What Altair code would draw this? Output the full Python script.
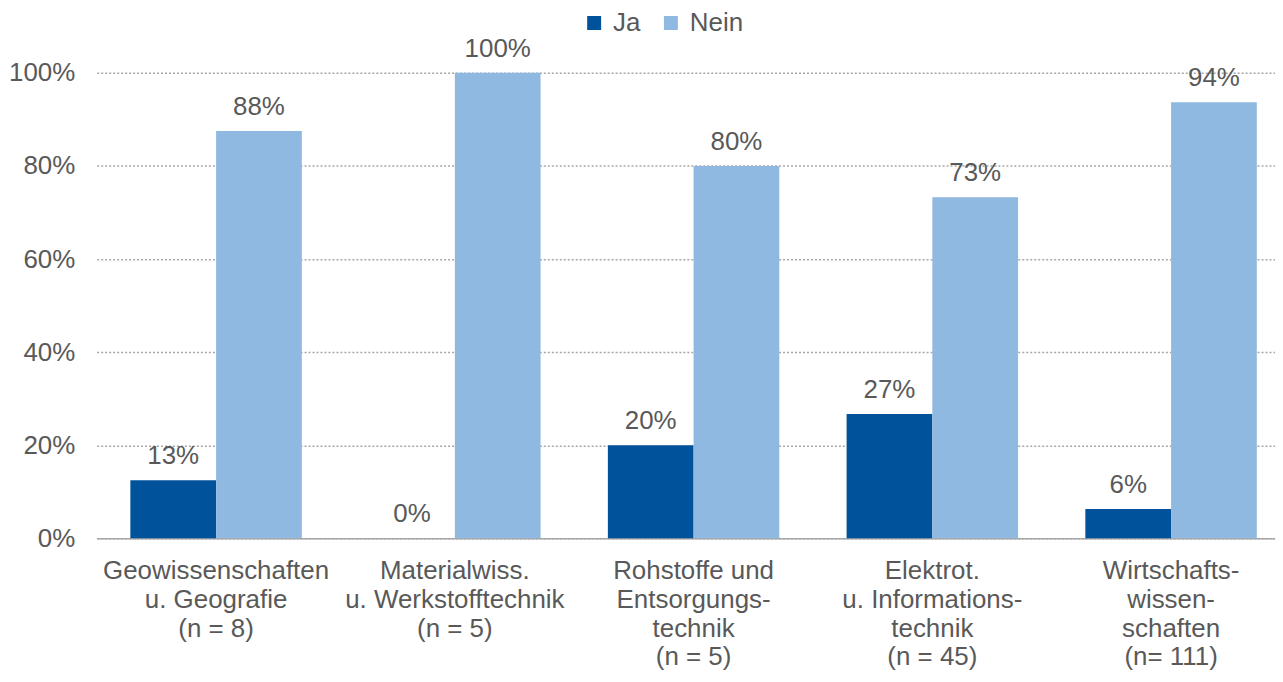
import altair as alt
import pandas as pd

categories = [
    "Geowissenschaften|u. Geografie|(n = 8)",
    "Materialwiss.|u. Werkstofftechnik|(n = 5)",
    "Rohstoffe und|Entsorgungs-|technik|(n = 5)",
    "Elektrot.|u. Informations-|technik|(n = 45)",
    "Wirtschafts-|wissen-|schaften|(n= 111)",
]
series = ["Ja", "Nein"]
ja_values = [12.5, 0.0, 20.0, 26.7, 6.3]
nein_values = [87.5, 100.0, 80.0, 73.3, 93.7]
y_ticks = [0, 20, 40, 60, 80, 100]

rows = []
for c, j, n in zip(categories, ja_values, nein_values):
    rows.append({"cat": c, "series": "Ja", "value": j})
    rows.append({"cat": c, "series": "Nein", "value": n})
df = pd.DataFrame(rows)

FONT = "Liberation Sans"
TXT = "#595959"
FS = 26

x_scale = alt.Scale(range=[0, 1197.5], paddingInner=0.2818, paddingOuter=0.1409)
x_enc = alt.X(
    "cat:N",
    sort=categories,
    scale=x_scale,
    axis=alt.Axis(
        title=None,
        labelExpr="split(datum.label, '|')",
        labelAngle=0,
        labelFontSize=FS,
        labelFont=FONT,
        labelColor=TXT,
        labelLineHeight=29,
        labelPadding=19,
        labelBaseline="top",
        labelLimit=0,
        ticks=False,
        domainColor="#a6a6a6",
        domainWidth=1.5,
        grid=False,
        labelOverlap=False,
        labelBound=False,
    ),
)
xoff = alt.XOffset("series:N", sort=series, scale=alt.Scale(paddingInner=0, paddingOuter=0))
y_enc = alt.Y(
    "value:Q",
    scale=alt.Scale(domain=[0, 100]),
    axis=alt.Axis(
        title=None,
        values=y_ticks,
        labelExpr="datum.value + '%'",
        labelFontSize=FS,
        labelFont=FONT,
        labelColor=TXT,
        labelPadding=22,
        ticks=False,
        domain=False,
        grid=True,
        gridDash=[2, 2],
        gridColor="#a6a6a6",
        gridWidth=1.5,
    ),
)

bars = alt.Chart(df).mark_bar().encode(
    x=x_enc,
    xOffset=xoff,
    y=y_enc,
    color=alt.Color(
        "series:N",
        scale=alt.Scale(domain=series, range=["#00529b", "#8fb9e1"]),
        legend=alt.Legend(
            title=None,
            orient="none",
            legendX=486,
            legendY=-63,
            padding=0,
            direction="horizontal",
            symbolType="square",
            symbolSize=196,
            symbolStrokeWidth=0,
            labelFontSize=FS,
            labelFont=FONT,
            labelColor=TXT,
            columnPadding=17,
            labelOffset=6,
        ),
    ),
)

labels = alt.Chart(df).transform_calculate(
    lbl="format(datum.value, '.0f') + '%'"
).mark_text(
    fontSize=FS, font=FONT, color=TXT, baseline="alphabetic", dy=-16
).encode(
    x=alt.X("cat:N", sort=categories, scale=x_scale),
    xOffset=xoff,
    y=alt.Y("value:Q"),
    text="lbl:N",
)

chart = (
    alt.layer(bars, labels)
    .properties(
        width=1182,
        height=467,
        autosize=alt.AutoSizeParams(type="none"),
        padding={"left": 89, "top": 64, "right": 0, "bottom": 133},
    )
    .configure_view(stroke=None)
)

chart.save("out.html", embed_options={"renderer": "svg", "actions": False})
